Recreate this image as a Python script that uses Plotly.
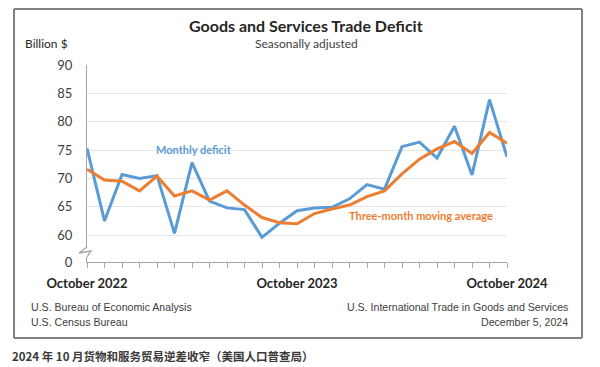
import plotly.graph_objects as go

months = ["2022-10","2022-11","2022-12","2023-01","2023-02","2023-03","2023-04","2023-05",
          "2023-06","2023-07","2023-08","2023-09","2023-10","2023-11","2023-12","2024-01",
          "2024-02","2024-03","2024-04","2024-05","2024-06","2024-07","2024-08","2024-09","2024-10"]
monthly_deficit = [75.3, 62.5, 70.7, 70.0, 70.5, 60.3, 72.8, 66.0, 64.8, 64.5, 59.6, 62.1, 64.3,
                   64.8, 64.9, 66.4, 68.9, 68.1, 75.6, 76.4, 73.6, 79.2, 70.6, 83.9, 73.8]
moving_average = [71.6, 69.7, 69.5, 67.8, 70.4, 66.9, 67.8, 66.2, 67.8, 65.3, 63.1, 62.2, 62.0,
                  63.8, 64.6, 65.3, 66.8, 67.8, 70.8, 73.4, 75.2, 76.5, 74.4, 78.1, 76.2]
x_tick_labels = {"2022-10": "October 2022", "2023-10": "October 2023", "2024-10": "October 2024"}
y_bottom = 55.26
y_tick_vals = [y_bottom, 60, 65, 70, 75, 80, 85, 90]
y_tick_text = ["0", "60", "65", "70", "75", "80", "85", "90"]

BLUE = "#5b9bd5"
ORANGE = "#ed7d31"

# the page adds an 8px body margin, so the figure is drawn 8px smaller and all
# page-pixel positions are shifted by OFF
OFF = 8
W, H = 600 - OFF, 367 - OFF
L, R, T, B = 87 - OFF, 507 - OFF, 65 - OFF, 262 - OFF
def px(x):
    return (x - OFF - L) / (R - L)
def py(y):
    return (B - (y - OFF)) / (B - T)

NARROW = "Liberation Sans Narrow, Arial Narrow, Liberation Sans, sans-serif"

fig = go.Figure()
fig.add_trace(go.Scatter(x=months, y=monthly_deficit, mode="lines",
                         line=dict(color=BLUE, width=3), name="Monthly deficit"))
fig.add_trace(go.Scatter(x=months, y=moving_average, mode="lines",
                         line=dict(color=ORANGE, width=3), name="Three-month moving average"))

annotations = [
    dict(text="<b>Goods and Services Trade Deficit</b>", x=px(306), y=py(25),
         font=dict(family="Lato", size=16, color="#262626")),
    dict(text="Seasonally adjusted", x=px(306), y=py(43),
         font=dict(family="Lato", size=12, color="#404040")),
    dict(text="Billion $", x=px(23), y=py(43), xanchor="left",
         font=dict(family="Lato", size=12, color="#262626")),
    dict(text="<b>Monthly deficit</b>", x=px(194), y=py(149),
         font=dict(family="Lato", size=11, color=BLUE)),
    dict(text="<b>Three-month moving average</b>", x=px(421), y=py(215),
         font=dict(family="Lato", size=11, color=ORANGE)),
    dict(text="U.S. Bureau of Economic Analysis", x=px(29), y=py(307), xanchor="left",
         font=dict(family=NARROW, size=10.6, color="#404040")),
    dict(text="U.S. Census Bureau", x=px(29), y=py(322), xanchor="left",
         font=dict(family=NARROW, size=10.6, color="#404040")),
    dict(text="U.S. International Trade in Goods and Services", x=px(570), y=py(307), xanchor="right",
         font=dict(family=NARROW, size=10.6, color="#404040")),
    dict(text="December 5, 2024", x=px(570), y=py(322), xanchor="right",
         font=dict(family=NARROW, size=10.6, color="#404040")),
    dict(text="<b>2024 年 10 月货物和服务贸易逆差收窄（美国人口普查局）</b>", x=px(10), y=py(356),
         xanchor="left", font=dict(family="Noto Sans CJK SC", size=11.5, color="#3a3a3a")),
]
for a in annotations:
    a.update(xref="paper", yref="paper", showarrow=False, yanchor="middle")
    a.setdefault("xanchor", "center")

FRAME = dict(color="#808080", width=2)
fx0, fx1, fy0, fy1 = px(14), px(582), py(9), py(338)
shapes = [
    # outer frame drawn as four lines
    dict(type="line", x0=fx0, x1=fx1, y0=fy0, y1=fy0, line=FRAME),
    dict(type="line", x0=fx0, x1=fx1, y0=fy1, y1=fy1, line=FRAME),
    dict(type="line", x0=fx0, x1=fx0, y0=fy0, y1=fy1, line=FRAME),
    dict(type="line", x0=fx1, x1=fx1, y0=fy0, y1=fy1, line=FRAME),
    # axis break: white gap then zigzag
    dict(type="rect", x0=px(84), x1=px(90), y0=py(257), y1=py(247),
         line=dict(width=0), fillcolor="white"),
    dict(type="path",
         path=f"M {px(87)} {py(247)} L {px(79)} {py(253)} L {px(91)} {py(251)} L {px(87)} {py(257)}",
         line=dict(color="#a6a6a6", width=1.3)),
]
for s in shapes:
    s.update(xref="paper", yref="paper", layer="above")

fig.update_layout(
    width=W, height=H,
    margin=dict(l=L, r=W - R, t=T, b=H - B),
    paper_bgcolor="white", plot_bgcolor="white",
    showlegend=False,
    annotations=annotations, shapes=shapes,
    xaxis=dict(type="category", range=[0, len(months) - 1],
               tickvals=months, ticktext=[x_tick_labels.get(m, "") for m in months],
               ticks="outside", ticklen=5, tickcolor="#a6a6a6", tickwidth=1,
               showline=True, linecolor="#a6a6a6", linewidth=1.3, showgrid=False,
               tickangle=0, ticklabelstandoff=4,
               tickfont=dict(family="Lato", size=13, color="#262626", weight="bold")),
    yaxis=dict(range=[y_bottom, 90], tickvals=y_tick_vals, ticktext=y_tick_text,
               showline=True, linecolor="#a6a6a6", linewidth=1.3,
               showgrid=True, gridcolor="#e6e6e6", gridwidth=1, zeroline=False,
               ticks="", ticklabelstandoff=11,
               tickfont=dict(family="Lato", size=13, color="#404040")),
)

fig.write_html("out.html")
